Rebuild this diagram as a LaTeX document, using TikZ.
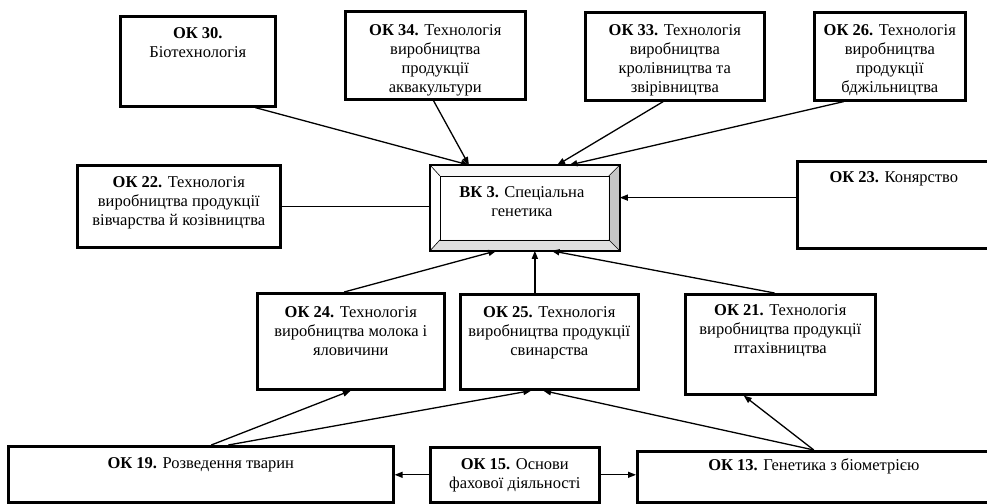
\documentclass[tikz,border=0pt]{standalone}
\usepackage{fontspec}
\setmainfont{Liberation Serif}
\usetikzlibrary{calc,arrows.meta}
\begin{document}
\begin{tikzpicture}[x=1pt,y=-1pt,
  box/.style={draw, line width=2.6pt, anchor=north west, inner sep=0pt},
  txt/.style={anchor=north, align=center, inner sep=0pt, font=\fontsize{16.5}{19}\selectfont},
  conn/.style={line width=1.3pt},
  arr/.style={conn, -{Triangle[length=8pt,width=6pt]}}]
\useasboundingbox (0,0) rectangle (987,503);
% boxes (left, top, width, height)
\node[box, minimum width=155pt, minimum height=90pt] (ok30) at (119,15) {};
\node[box, minimum width=180pt, minimum height=88pt] (ok34) at (344,10) {};
\node[box, minimum width=179pt, minimum height=88pt] (ok33) at (584,11) {};
\node[box, minimum width=151pt, minimum height=88pt] (ok26) at (813,11) {};
\node[box, minimum width=203pt, minimum height=82pt] (ok22) at (76,164) {};
\node[box, minimum width=193pt, minimum height=87pt] (ok23) at (796,160) {};
\node[box, minimum width=187pt, minimum height=96pt] (ok24) at (256,292) {};
\node[box, minimum width=178pt, minimum height=95pt] (ok25) at (459,293) {};
\node[box, minimum width=190pt, minimum height=100pt] (ok21) at (684,293) {};
\node[box, minimum width=385pt, minimum height=56pt] (ok19) at (7,445) {};
\node[box, minimum width=169pt, minimum height=55pt] (ok15) at (429,446) {};
\node[box, minimum width=353pt, minimum height=51pt] (ok13) at (636,450) {};
% central bevelled box
\node[draw, line width=1.8pt, anchor=north west, inner sep=0pt, minimum width=188pt, minimum height=84pt] (vk3) at (430,165) {};
\coordinate (iTL) at ($(vk3.north west)+(10,11)$);
\coordinate (iTR) at ($(vk3.north east)+(-11,11)$);
\coordinate (iBL) at ($(vk3.south west)+(10,-11)$);
\coordinate (iBR) at ($(vk3.south east)+(-11,-11)$);
\fill[gray!6] (vk3.north west) -- (vk3.north east) -- (iTR) -- (iTL) -- cycle;
\fill[white] (vk3.north west) -- (iTL) -- (iBL) -- (vk3.south west) -- cycle;
\fill[gray!45] (vk3.north east) -- (vk3.south east) -- (iBR) -- (iTR) -- cycle;
\fill[gray!25] (vk3.south west) -- (vk3.south east) -- (iBR) -- (iBL) -- cycle;
\draw[line width=0.6pt] (iTL) rectangle (iBR);
\draw[line width=0.6pt] (vk3.north west) -- (iTL) (vk3.north east) -- (iTR) (vk3.south west) -- (iBL) (vk3.south east) -- (iBR);
\draw[line width=1.8pt] (vk3.north west) rectangle (vk3.south east);
% texts
\node[txt] (ok30t) at ([yshift=-10pt]ok30.north) {\strut\textbf{ОК 30.}\\Біотехнологія};
\node[txt] (ok34t) at ([yshift=-12pt]ok34.north) {\strut\textbf{ОК 34.} Технологія\\виробництва\\продукції\\аквакультури};
\node[txt] (ok33t) at ([yshift=-11pt]ok33.north) {\strut\textbf{ОК 33.} Технологія\\виробництва\\кролівництва та\\звірівництва};
\node[txt] (ok26t) at ([yshift=-11pt]ok26.north) {\strut\textbf{ОК 26.} Технологія\\виробництва\\продукції\\бджільництва};
\node[txt] (ok22t) at ([yshift=-10pt]ok22.north) {\strut\textbf{ОК 22.} Технологія\\виробництва продукції\\вівчарства й козівництва};
\node[txt] (vk3t) at ([xshift=-3pt,yshift=-19pt]vk3.north) {\strut\textbf{ВК 3.} Спеціальна\\генетика};
\node[txt] (ok23t) at ([yshift=-9pt]ok23.north) {\strut\textbf{ОК 23.} Конярство};
\node[txt] (ok24t) at ([yshift=-11.5pt]ok24.north) {\strut\textbf{ОК 24.} Технологія\\виробництва молока і\\яловичини};
\node[txt] (ok25t) at ([yshift=-11pt]ok25.north) {\strut\textbf{ОК 25.} Технологія\\виробництва продукції\\свинарства};
\node[txt] (ok21t) at ([yshift=-9pt]ok21.north) {\strut\textbf{ОК 21.} Технологія\\виробництва продукції\\птахівництва};
\node[txt] (ok19t) at ([yshift=-10pt]ok19.north) {\strut\textbf{ОК 19.} Розведення тварин};
\node[txt] (ok15t) at ([yshift=-10pt]ok15.north) {\strut\textbf{ОК 15.} Основи\\фахової діяльності};
\node[txt] (ok13t) at ([yshift=-7pt]ok13.north) {\strut\textbf{ОК 13.} Генетика з біометрією};
% connectors
\draw[arr] ($(ok30.south west)!0.865!(ok30.south east)$) -- ($(vk3.north west)!0.205!(vk3.north east)$);
\draw[arr] ($(ok34.south west)!0.49!(ok34.south east)$) -- ($(vk3.north west)!0.205!(vk3.north east)$);
\draw[arr] ($(ok33.south west)!0.436!(ok33.south east)$) -- ($(vk3.north west)!0.67!(vk3.north east)$);
\draw[arr] ($(ok26.south west)!0.2!(ok26.south east)$) -- ($(vk3.north west)!0.734!(vk3.north east)$);
\draw[conn] (ok22.east) -- (ok22.east -| vk3.west);
\draw[arr] ($(ok23.north west)!0.42!(ok23.south west)$) coordinate (p23) -- (p23 -| vk3.east);
\draw[arr] ($(ok24.north west)!0.465!(ok24.north east)$) -- ($(vk3.south west)!0.35!(vk3.south east)$);
\draw[arr] ($(ok25.north west)!0.42!(ok25.north east)$) coordinate (p25) -- (p25 |- vk3.south);
\draw[arr] ($(ok21.north west)!0.47!(ok21.north east)$) -- ($(vk3.south west)!0.64!(vk3.south east)$);
\draw[arr] ($(ok19.north west)!0.527!(ok19.north east)$) -- (ok24.south);
\draw[arr] ($(ok19.north west)!0.571!(ok19.north east)$) -- ($(ok25.south west)!0.4!(ok25.south east)$);
\draw[arr] ($(ok13.north west)!0.5!(ok13.north east)$) -- ($(ok25.south west)!0.466!(ok25.south east)$);
\draw[arr] ($(ok13.north west)!0.5!(ok13.north east)$) -- ($(ok21.south west)!0.31!(ok21.south east)$);
\draw[arr] (ok15.west) -- (ok15.west -| ok19.east);
\draw[arr] (ok15.east) -- (ok15.east -| ok13.west);
\end{tikzpicture}
\end{document}
